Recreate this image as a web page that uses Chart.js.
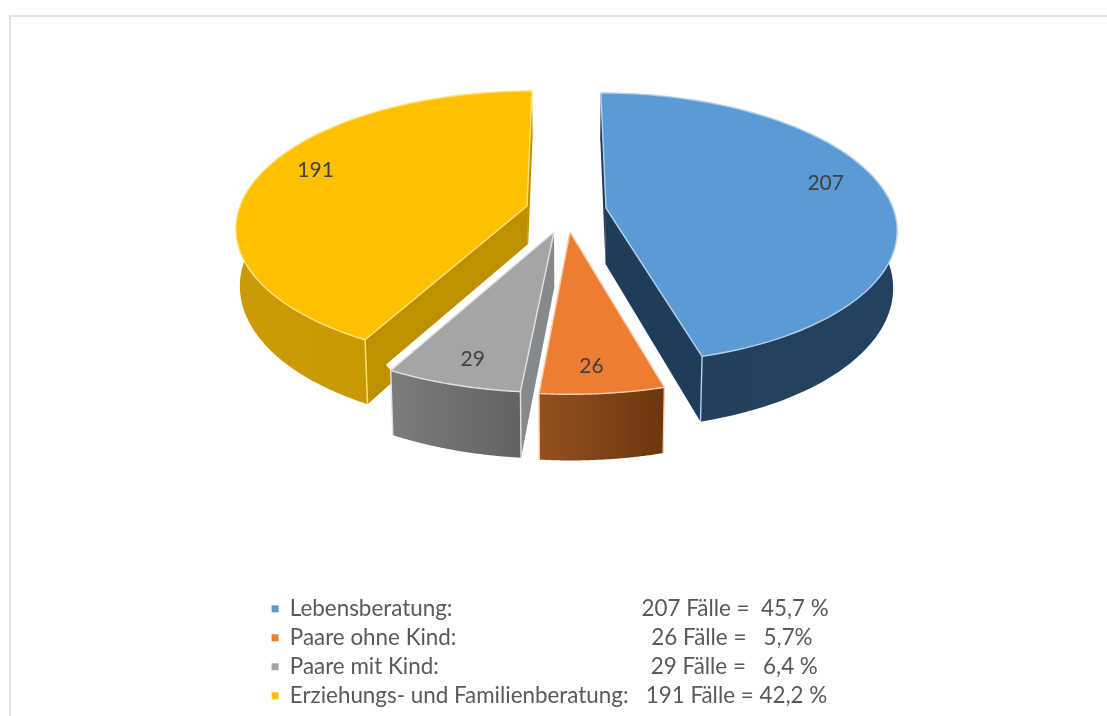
<!DOCTYPE html>
<html><head><meta charset="utf-8">
<style>html,body{margin:0;padding:0;background:#fff;overflow:hidden}#wrap{position:absolute;left:0;top:0;width:1107px;height:716px}</style>
<script src="https://cdn.jsdelivr.net/npm/chart.js@4"></script>
</head><body><div id="wrap"><canvas id="c"></canvas></div>
<script>
const categories = ['Lebensberatung:', 'Paare ohne Kind:', 'Paare mit Kind:', 'Erziehungs- und Familienberatung:'];
const values = [207, 26, 29, 191];
const legendFigures = ['207 Fälle =  45,7 %', '26 Fälle =   5,7%', '29 Fälle =   6,4 %', '191 Fälle = 42,2 %'];
const legendPads = [33, 34, 37, 3];
const colors = ['#5b9bd5', '#ed7d31', '#a5a5a5', '#ffc000'];

// look of the tilted pie
const look = {
  R: 287, k: 0.46, q: 0.148, depth: 56, shrink: 0.012, cx: 566,
  apex: [[606,208],[570,232],[554,232],[527,206]],
  scale: [1.0,1.04,1.03,1.0],
  order: [3,0,2,1],
  edge: ['#b4d0ea','#f8cdae','#e2e2e2','#ffe27f'],
  rimA: ['#223f5e','#94501e','#7c7c7c','#cb9a04'],
  rimB: ['#24425f','#6b3610','#626262','#c99800'],
  wall: ['#1f3c5a','#7a3d12','#84898e','#bd9000'],
  labelPolar: [[76.2,.815],[175.9,.884],[196,.88],[290.2,.824]]
};
const p = look.q / look.R;

function pt(i, theta, r, down) {
  const [ax, ay] = look.apex[i];
  const s = look.scale[i];
  const X = r * look.R * s * Math.sin(theta), Y = -r * look.R * s * Math.cos(theta);
  const w = 1 / (1 - p * Y);
  let x = look.cx + (ax - look.cx + X) * w, y = ay + look.k * Y * w;
  if (down) { y += look.depth * w; x += (look.cx - x) * look.shrink; }
  return [x, y];
}
function poly(ctx, pts) { ctx.beginPath(); pts.forEach((q, n) => n ? ctx.lineTo(q[0], q[1]) : ctx.moveTo(q[0], q[1])); ctx.closePath(); }
function arcPts(i, a, b, down) { const out = []; const n = 80; for (let j = 0; j <= n; j++) out.push(pt(i, a + (b - a) * j / n, 1, down)); return out; }

const pie3d = {
  id: 'pie3d',
  beforeDatasetsDraw(chart) {
    const ctx = chart.ctx, meta = chart.getDatasetMeta(0);
    ctx.save();
    // page frame
    ctx.fillStyle = '#e4e4e4';
    ctx.fillRect(9, 15, 2, 701); ctx.fillRect(9, 15, 1098, 2);
    ctx.lineJoin = 'round';
    look.order.forEach(i => {
      const arc = meta.data[i];
      const a = arc.startAngle + Math.PI / 2, b = arc.endAngle + Math.PI / 2;
      const apexT = pt(i, a, 0, false), apexB = pt(i, a, 0, true);
      const sT = pt(i, a, 1, false), sB = pt(i, a, 1, true);
      const eT = pt(i, b, 1, false), eB = pt(i, b, 1, true);
      const top = arcPts(i, a, b, false), bot = arcPts(i, a, b, true);
      // white halo that separates the grey slice from the yellow one behind it
      if (i === 2) { ctx.strokeStyle = '#fff'; ctx.lineWidth = 15; ctx.lineCap = 'butt'; ctx.beginPath(); ctx.moveTo(apexT[0], apexT[1]); ctx.lineTo(eT[0], eT[1]); ctx.stroke(); }
      // radial walls
      ctx.fillStyle = look.wall[i];
      poly(ctx, [apexT, sT, sB, apexB]); ctx.fill();
      poly(ctx, [apexT, eT, eB, apexB]); ctx.fill();
      // rim wall
      const xs = top.concat(bot).map(q => q[0]);
      const g = ctx.createLinearGradient(Math.min(...xs), 0, Math.max(...xs), 0);
      g.addColorStop(0, look.rimA[i]); g.addColorStop(1, look.rimB[i]);
      ctx.fillStyle = g;
      poly(ctx, top.concat(bot.slice().reverse())); ctx.fill();
      // front corners
      ctx.strokeStyle = look.edge[i]; ctx.lineWidth = 1.4;
      [[sT, sB], [eT, eB]].forEach(([u, v]) => {
        if (u[1] > 300) { ctx.beginPath(); ctx.moveTo(u[0], u[1]); ctx.lineTo(v[0], v[1]); ctx.stroke(); }
      });
      // top face
      ctx.fillStyle = colors[i];
      poly(ctx, [apexT].concat(top)); ctx.fill(); ctx.stroke();
    });
    // value labels
    ctx.fillStyle = '#404040'; ctx.font = '21px Lato'; ctx.textAlign = 'center'; ctx.textBaseline = 'middle';
    values.forEach((v, i) => {
      const [t, r] = look.labelPolar[i];
      const q = pt(i, t * Math.PI / 180, r / look.scale[i], false);
      ctx.fillText(String(v), q[0], q[1]);
    });
    ctx.restore();
    return false;
  }
};

const legendText = categories.map((c, i) => c + ' '.repeat(legendPads[i]) + legendFigures[i]);

new Chart(document.getElementById('c'), {
  type: 'pie',
  data: { labels: legendText, datasets: [{ data: values, backgroundColor: colors, borderWidth: 0 }] },
  options: {
    responsive: true, maintainAspectRatio: false, animation: false,
    layout: { padding: { left: 265, bottom: -1, top: 0, right: 0 } },
    plugins: {
      tooltip: { enabled: false },
      legend: {
        position: 'bottom', align: 'start', maxWidth: 590,
        labels: { boxWidth: 7, boxHeight: 7, padding: 6.6, color: '#595959', font: { family: 'Lato', size: 22.4 } }
      }
    }
  },
  plugins: [pie3d]
});
</script></body></html>
